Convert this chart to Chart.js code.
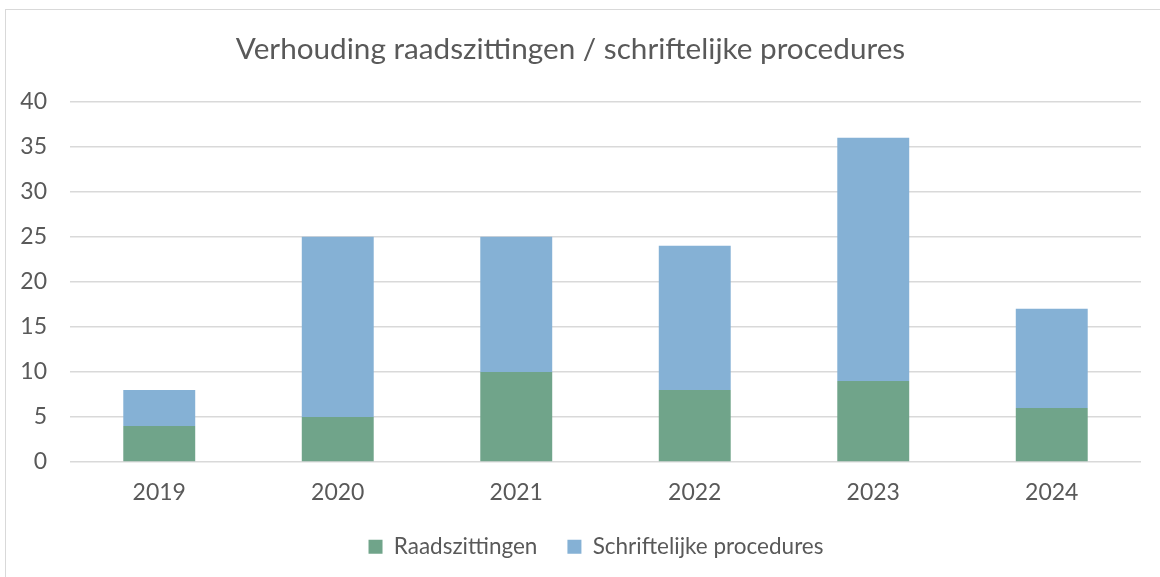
<!DOCTYPE html>
<html>
<head>
<meta charset="utf-8">
<script src="https://cdn.jsdelivr.net/npm/chart.js@4"></script>
<style>
    html, body { margin: 0; padding: 0; background: #fff; overflow: hidden; }
    #wrap { position: relative; width: 1160px; height: 577px; }
    #frame { position: absolute; left: 5px; top: 9px; width: 1200px; height: 600px; border: 1px solid #D9D9D9; }
    canvas { position: absolute; left: 0; top: 0; }
</style>
</head>
<body>
<div id="wrap">
    <div id="frame"></div>
    <canvas id="barChart" width="1160" height="577"></canvas>
</div>
<script>
// Data
var years = ['2019', '2020', '2021', '2022', '2023', '2024'];
var raadszittingen = [4, 5, 10, 8, 9, 6];
var schriftelijk = [4, 20, 15, 16, 27, 11];
var yTicks = [0, 5, 10, 15, 20, 25, 30, 35, 40];

var fontFamily = 'Lato, "Open Sans", sans-serif';
var textColor = '#595959';

Chart.defaults.font.family = fontFamily;
Chart.defaults.color = textColor;

// the legend padding also sets the gap between the items, so nudge it afterwards
var legendShift = {
    id: 'legendShift',
    afterLayout: function (chart) {
        chart.legend.top -= 9;
        chart.legend.bottom -= 9;
        chart.legend.left += 25.5;
        chart.legend.right += 25.5;
    }
};

document.addEventListener('DOMContentLoaded', renderChart);

function renderChart() {
    var ctx = document.getElementById('barChart').getContext('2d');

    new Chart(ctx, {
        type: 'bar',
        data: {
            labels: years,
            datasets: [{
                label: 'Raadszittingen',
                data: raadszittingen,
                backgroundColor: '#70A48A',
                borderWidth: 0
            }, {
                label: 'Schriftelijke procedures',
                data: schriftelijk,
                backgroundColor: '#85B1D5',
                borderWidth: 0
            }]
        },
        options: {
            responsive: false,
            animation: false,
            devicePixelRatio: 1,
            datasets: {
                bar: {
                    barPercentage: 0.5,
                    categoryPercentage: 0.806
                }
            },
            layout: {
                padding: { top: 0, left: 0, right: 19, bottom: 0 }
            },
            plugins: {
                title: {
                    display: true,
                    text: 'Verhouding raadszittingen / schriftelijke procedures',
                    color: textColor,
                    font: { size: 29.7, weight: 'normal' },
                    padding: { top: 32, bottom: 34 }
                },
                legend: {
                    position: 'bottom',
                    labels: {
                        boxWidth: 14,
                        boxHeight: 14,
                        padding: 30,
                        color: textColor,
                        font: { size: 22.5 }
                    }
                },
                tooltip: { enabled: false }
            },
            scales: {
                x: {
                    stacked: true,
                    grid: { display: false, drawTicks: false },
                    border: { display: false },
                    ticks: { padding: 17, font: { size: 23 }, color: textColor },
                    afterFit: function (scale) { scale.height = 52.5; }
                },
                y: {
                    stacked: true,
                    min: 0,
                    max: 40,
                    afterBuildTicks: function (scale) {
                        scale.ticks = yTicks.map(function (v) { return { value: v }; });
                    },
                    grid: { color: '#D9D9D9', lineWidth: 1.5, drawTicks: false },
                    border: { display: false },
                    ticks: { padding: 23, font: { size: 23 }, color: textColor },
                    afterFit: function (scale) { scale.width = 70; }
                }
            }
        },
        plugins: [legendShift]
    });
}
</script>
</body>
</html>
